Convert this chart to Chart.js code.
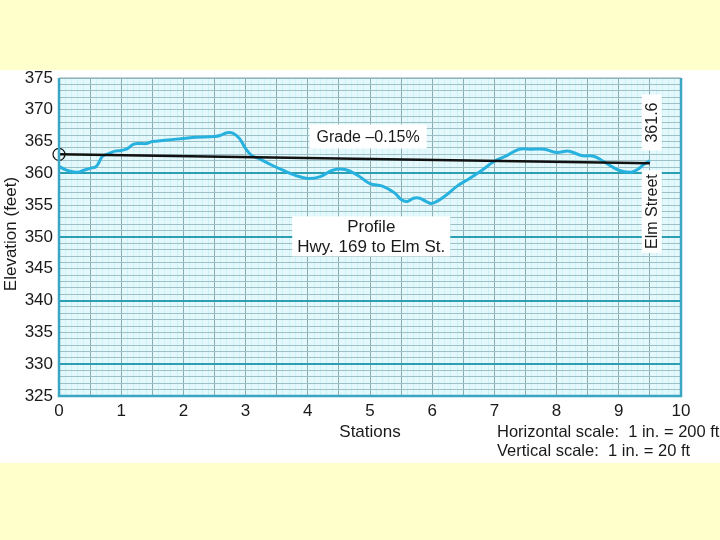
<!DOCTYPE html>
<html>
<head>
<meta charset="utf-8">
<script src="https://cdn.jsdelivr.net/npm/chart.js@4"></script>
<style>
  html, body { margin: 0; padding: 0; background: #ffffcc; }
  #wrap { width: 720px; height: 540px; position: relative; }
</style>
</head>
<body>
<div id="wrap"><canvas id="profileChart" width="720" height="540"></canvas></div>
<script>
// Ground profile (station, elevation in feet)
const stations = [0, 0.1, 0.2, 0.3, 0.4, 0.5, 0.6, 0.7, 0.8, 0.9, 1.0, 1.1, 1.2, 1.3, 1.4, 1.5, 1.7, 2.0, 2.2, 2.5,
  2.6, 2.7, 2.8, 2.9, 3.0, 3.1, 3.2, 3.4, 3.6, 3.8, 4.0, 4.2, 4.4, 4.6, 4.8, 5.0, 5.2, 5.4, 5.5, 5.6,
  5.7, 5.8, 5.9, 6.0, 6.2, 6.4, 6.6, 6.8, 7.0, 7.2, 7.4, 7.6, 7.8, 8.0, 8.2, 8.4, 8.6, 8.8, 9.0, 9.2,
  9.3, 9.4, 9.5];
const elevations = [361.1, 360.6, 360.3, 360.2, 360.5, 360.8, 361.1, 362.7, 363.1, 363.5, 363.6, 363.9, 364.6, 364.7, 364.7, 365.0, 365.2, 365.5, 365.7, 365.8,
  366.0, 366.4, 366.3, 365.5, 363.9, 362.8, 362.4, 361.4, 360.5, 359.7, 359.2, 359.5, 360.5, 360.6, 359.7, 358.4, 358.0, 356.9, 355.9, 355.6,
  356.1, 356.1, 355.6, 355.3, 356.4, 358.0, 359.2, 360.5, 361.9, 362.8, 363.8, 363.8, 363.8, 363.3, 363.5, 362.8, 362.7, 361.6, 360.5, 360.2,
  360.6, 361.4, 362.0];

// Grade line -0.15% from station 0 to Elm Street
const gradeStations = [0, 9.5];
const gradeElevations = [363.0, 361.6];

const xMin = 0, xMax = 10;
const yMin = 325, yMax = 375;
const yLabelStep = 5;
// heavy ruling lines on the sheet
const heavyRules = [330, 340, 350, 360];

const FONT = '"Liberation Sans", Arial, Helvetica, sans-serif';

function toPoints(xs, ys) {
  return xs.map((x, i) => ({ x: x, y: ys[i] }));
}

// backgrounds, frame and the text labels
const paperPlugin = {
  id: 'paper',
  beforeDraw(chart) {
    const ctx = chart.ctx;
    const a = chart.chartArea;
    ctx.save();
    ctx.fillStyle = '#ffffcc';
    ctx.fillRect(0, 0, chart.width, chart.height);
    ctx.fillStyle = '#ffffff';
    ctx.fillRect(0, 70, chart.width, 393);
    ctx.fillStyle = '#e5f9fc';
    ctx.fillRect(a.left, a.top, a.right - a.left, a.bottom - a.top);
    ctx.restore();
  },
  afterDatasetsDraw(chart) {
    const ctx = chart.ctx;
    const a = chart.chartArea;
    const xs = chart.scales.x, ys = chart.scales.y;

    ctx.save();
    // plot frame
    ctx.strokeStyle = '#3aa6c4';
    ctx.lineWidth = 2.5;
    ctx.beginPath();
    ctx.moveTo(a.left, a.top);
    ctx.lineTo(a.left, a.bottom);
    ctx.lineTo(a.right, a.bottom);
    ctx.lineTo(a.right, a.top);
    ctx.stroke();
    ctx.strokeStyle = '#7fa9b0';
    ctx.lineWidth = 1;
    ctx.beginPath();
    ctx.moveTo(a.left, a.top);
    ctx.lineTo(a.right, a.top);
    ctx.stroke();

    ctx.fillStyle = '#1a1a1a';
    ctx.textBaseline = 'middle';

    function boxText(lines, cx, cy, lineH, padX, padY, size) {
      ctx.font = size + 'px ' + FONT;
      const w = Math.max(...lines.map(t => ctx.measureText(t).width));
      const h = lines.length * lineH;
      ctx.fillStyle = '#ffffff';
      ctx.fillRect(cx - w / 2 - padX, cy - h / 2 - padY, w + padX * 2, h + padY * 2);
      ctx.fillStyle = '#1a1a1a';
      ctx.textAlign = 'center';
      lines.forEach((t, i) => ctx.fillText(t, cx, cy - h / 2 + lineH * (i + 0.5) + 1));
    }

    function boxTextV(text, cx, cy, padX, padY, size) {
      ctx.save();
      ctx.translate(cx, cy);
      ctx.rotate(-Math.PI / 2);
      ctx.font = size + 'px ' + FONT;
      const w = ctx.measureText(text).width;
      ctx.fillStyle = '#ffffff';
      ctx.fillRect(-w / 2 - padX, -size / 2 - padY, w + padX * 2, size + padY * 2);
      ctx.fillStyle = '#1a1a1a';
      ctx.textAlign = 'center';
      ctx.fillText(text, 0, 1);
      ctx.restore();
    }

    boxText(['Grade \u20130.15%'], xs.getPixelForValue(4.97), ys.getPixelForValue(365.8), 20, 7, 2, 16);
    boxText(['Profile', 'Hwy. 169 to Elm St.'], xs.getPixelForValue(5.02), ys.getPixelForValue(350.1), 20, 5, 0, 17);
    boxTextV('361.6', xs.getPixelForValue(9.53), ys.getPixelForValue(368.0), 8, 2, 16);
    boxTextV('Elm Street', xs.getPixelForValue(9.53), ys.getPixelForValue(354.0), 4, 2, 16);

    // axis titles and scale notes
    ctx.font = '17px ' + FONT;
    ctx.textAlign = 'center';
    ctx.save();
    ctx.translate(11, 234);
    ctx.rotate(-Math.PI / 2);
    ctx.fillText('Elevation (feet)', 0, 0);
    ctx.restore();
    ctx.fillText('Stations', 370, 432);
    ctx.textAlign = 'left';
    ctx.font = '16.5px ' + FONT;
    ctx.fillText('Horizontal scale:  1 in. = 200 ft', 497, 432);
    ctx.fillText('Vertical scale:  1 in. = 20 ft', 497, 451);
    ctx.restore();
  }
};

const isHeavy = (v) => heavyRules.includes(Math.round(v));

new Chart(document.getElementById('profileChart').getContext('2d'), {
  type: 'line',
  data: {
    datasets: [
      {
        label: 'Grade',
        data: toPoints(gradeStations, gradeElevations),
        borderColor: '#111111',
        borderWidth: 2.5,
        pointRadius: [6, 0],
        pointBackgroundColor: 'rgba(0,0,0,0)',
        pointBorderColor: '#111111',
        pointBorderWidth: 1.2,
        tension: 0,
        clip: false,
        order: 1
      },
      {
        label: 'Profile',
        data: toPoints(stations, elevations),
        borderColor: '#27b1df',
        borderWidth: 3,
        pointRadius: 0,
        tension: 0.4,
        order: 2
      }
    ]
  },
  options: {
    responsive: false,
    animation: false,
    events: [],
    layout: { padding: { left: 0, right: 39, top: 78, bottom: 114 } },
    plugins: { legend: { display: false }, tooltip: { enabled: false } },
    scales: {
      x: {
        type: 'linear',
        min: xMin,
        max: xMax,
        afterFit: (s) => { s.height = 30; },
        border: { display: false },
        grid: {
          drawTicks: false,
          color: (c) => {
            const t = Math.round(c.tick.value * 10);
            return t % 5 === 0 ? '#88aeb4' : '#cdf2f7';
          },
          lineWidth: 1
        },
        ticks: {
          stepSize: 0.1,
          autoSkip: false,
          maxRotation: 0,
          maxTicksLimit: 200,
          padding: 5,
          color: '#1a1a1a',
          font: { family: FONT, size: 17 },
          callback: (v) => {
            const t = Math.round(v * 10);
            return t % 10 === 0 ? String(t / 10) : '';
          }
        }
      },
      y: {
        type: 'linear',
        min: yMin,
        max: yMax,
        afterFit: (s) => { s.width = 59; },
        border: { display: false },
        grid: {
          drawTicks: false,
          color: (c) => (isHeavy(c.tick.value) ? '#2c9fb3' : '#9cc0c5'),
          lineWidth: (c) => (isHeavy(c.tick.value) ? 2 : 1)
        },
        ticks: {
          stepSize: 1,
          autoSkip: false,
          maxTicksLimit: 200,
          padding: 6,
          color: '#1a1a1a',
          font: { family: FONT, size: 17 },
          callback: (v) => (Math.round(v) % yLabelStep === 0 ? String(Math.round(v)) : '')
        }
      }
    }
  },
  plugins: [paperPlugin]
});
</script>
</body>
</html>
